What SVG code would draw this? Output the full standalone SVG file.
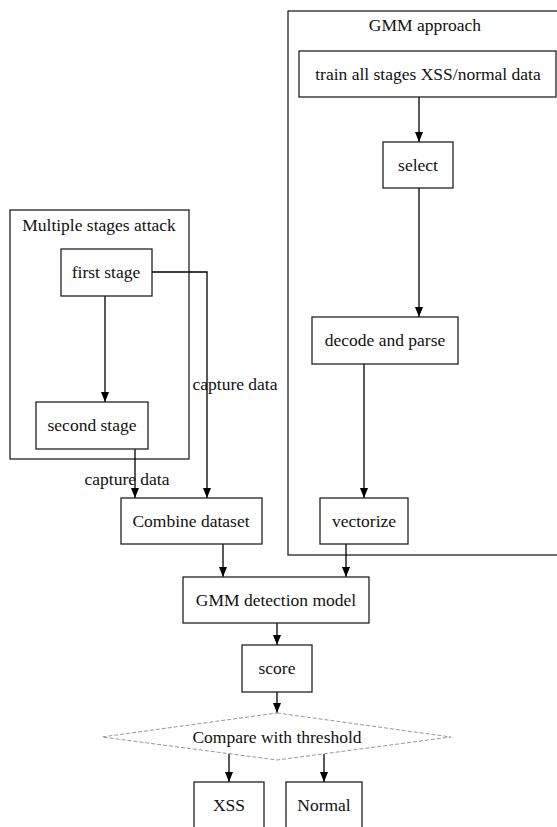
<svg xmlns="http://www.w3.org/2000/svg" width="557" height="827" viewBox="0 0 557 827">
<defs>
<marker id="ah" markerWidth="10" markerHeight="8" refX="10" refY="4" orient="auto" markerUnits="userSpaceOnUse">
<path d="M0,0 L10,4 L0,8 Z" fill="#000"/>
</marker>
<style>
text{font-family:'Liberation Serif','Times New Roman',serif;font-size:17.5px;fill:#111;text-anchor:middle}
.n{fill:#fff;stroke:#222;stroke-width:1.3}
.c{fill:none;stroke:#222;stroke-width:1.3}
.e{fill:none;stroke:#000;stroke-width:1.3;marker-end:url(#ah)}
.d{fill:#fff;stroke:#999;stroke-width:1;stroke-dasharray:4,2}
</style>
</defs>
<rect width="557" height="827" fill="#fff"/>
<g id="cluster_multi"><rect class="c" x="10" y="210" width="179" height="249"/><text x="99" y="231">Multiple stages attack</text></g>
<g id="cluster_gmm"><rect class="c" x="288" y="11" width="275" height="544"/><text x="425" y="31">GMM approach</text></g>
<g id="connectors">
<path class="e" d="M105,296 L105,402"/>
<path class="e" d="M152,272 L207,272 L207,498"/>
<text x="235" y="390">capture data</text>
<path class="e" d="M135,449 L135,498"/>
<text x="127" y="485">capture data</text>
<path class="e" d="M419,97 L419,142"/>
<path class="e" d="M419,188 L419,317"/>
<path class="e" d="M364,364 L364,498"/>
<path class="e" d="M223,544 L223,577"/>
<path class="e" d="M346,544 L346,577"/>
<path class="e" d="M277,623 L277,645"/>
<path class="e" d="M277,692 L277,713"/>
<path class="e" d="M229,754 L229,782"/>
<path class="e" d="M324,754 L324,782"/>
</g>
<g id="first_stage"><rect class="n" x="61" y="249" width="91" height="47"/><text x="106" y="278">first stage</text></g>
<g id="second_stage"><rect class="n" x="36" y="402" width="112" height="47"/><text x="92" y="431">second stage</text></g>
<g id="train"><rect class="n" x="299" y="51" width="257" height="46"/><text x="428" y="80">train all stages XSS/normal data</text></g>
<g id="select"><rect class="n" x="383" y="142" width="70" height="46"/><text x="418" y="171">select</text></g>
<g id="decode"><rect class="n" x="312" y="317" width="146" height="47"/><text x="385" y="346">decode and parse</text></g>
<g id="vectorize"><rect class="n" x="320" y="498" width="88" height="46"/><text x="364" y="527">vectorize</text></g>
<g id="combine"><rect class="n" x="121" y="498" width="141" height="46"/><text x="191" y="527">Combine dataset</text></g>
<g id="gmm_model"><rect class="n" x="183" y="577" width="186" height="46"/><text x="276" y="606">GMM detection model</text></g>
<g id="score"><rect class="n" x="242" y="645" width="70" height="47"/><text x="277" y="674">score</text></g>
<g id="compare"><polygon class="d" points="277,713 451,737 277,760 102,737"/><text x="277" y="743">Compare with threshold</text></g>
<g id="xss"><rect class="n" x="194" y="782" width="70" height="60"/><text x="229" y="811">XSS</text></g>
<g id="normal"><rect class="n" x="286" y="782" width="76" height="60"/><text x="324" y="811">Normal</text></g>
</svg>
